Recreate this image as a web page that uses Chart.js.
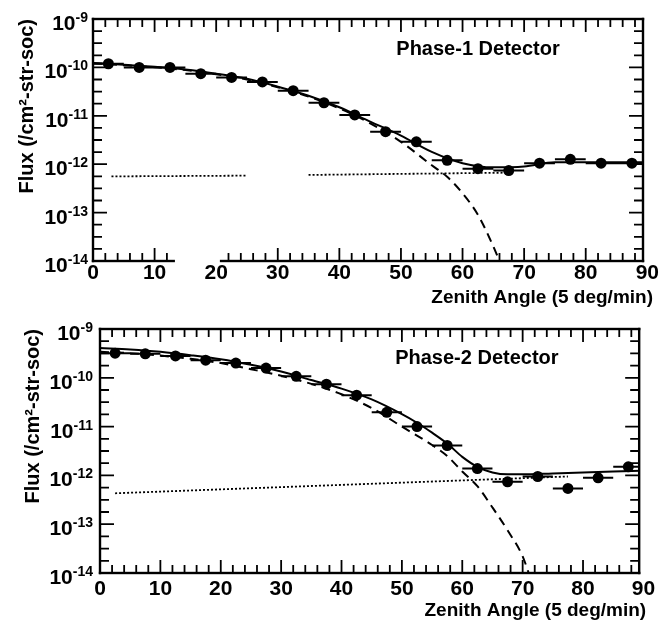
<!DOCTYPE html>
<html><head><meta charset="utf-8">
<script src="https://cdn.jsdelivr.net/npm/chart.js@4.4.1/dist/chart.umd.min.js"></script>
<style>
html,body{margin:0;padding:0;background:#fff;}
#wrap{position:relative;width:659px;height:627px;background:#fff;overflow:hidden;}
#p1{position:absolute;left:0;top:0;width:659px;height:310px;}
#p2{position:absolute;left:0;top:310px;width:659px;height:317px;}
</style></head><body>
<div id="wrap"><div id="p1"><canvas id="c1"></canvas></div><div id="p2"><canvas id="c2"></canvas></div></div>
<script>
// ---- data ----
const angleBins = [2.5,7.5,12.5,17.5,22.5,27.5,32.5,37.5,42.5,47.5,52.5,57.5,62.5,67.5,72.5,77.5,82.5,87.5];
const binHalfWidth = 2.5;
const phase1Flux = [1.19e-10,1.0e-10,1.0e-10,7.4e-11,6.2e-11,5.0e-11,3.3e-11,1.86e-11,1.04e-11,4.7e-12,2.9e-12,1.2e-12,8.1e-13,7.4e-13,1.05e-12,1.26e-12,1.05e-12,1.05e-12];
const phase2Flux = [3.2e-10,3.1e-10,2.8e-10,2.3e-10,2.0e-10,1.58e-10,1.07e-10,7.4e-11,4.4e-11,1.96e-11,1.0e-11,4.1e-12,1.38e-12,7.4e-13,9.5e-13,5.4e-13,8.9e-13,1.5e-12];

const totalAngles1 = [0,5,10,15,20,25,30,35,40,45,50,55,60,65,70,75,80,85,90];
const phase1Total = [1.24e-10,1.13e-10,1.03e-10,9.0e-11,7.4e-11,5.8e-11,4.0e-11,2.6e-11,1.5e-11,7.6e-12,3.9e-12,1.8e-12,1.05e-12,8.6e-13,9.0e-13,1.1e-12,1.1e-12,1.1e-12,1.1e-12];
const muonAngles1 = [0,5,10,15,20,25,30,35,40,45,50,55,57.5,60,62.5,65,66];
const phase1Muon = [1.22e-10,1.11e-10,1.01e-10,8.8e-11,7.2e-11,5.6e-11,3.9e-11,2.5e-11,1.42e-11,7.0e-12,2.9e-12,9.5e-13,5.5e-13,2.5e-13,9e-14,2.0e-14,1.0e-14];
const bkgAngles1 = [3,25,30,35,68];
const phase1Bkg = [5.6e-13,5.8e-13,null,6.0e-13,6.7e-13];

const totalAngles2 = [0,5,10,15,20,25,30,35,40,45,50,52.5,55,57.5,60,62.5,65,67.5,70,75,80,85,90];
const phase2Total = [4.1e-10,3.8e-10,3.4e-10,2.9e-10,2.4e-10,1.85e-10,1.35e-10,9.0e-11,6.0e-11,3.6e-11,1.8e-11,1.2e-11,7.5e-12,4.5e-12,2.4e-12,1.5e-12,1.15e-12,1.05e-12,1.05e-12,1.1e-12,1.15e-12,1.2e-12,1.25e-12];
const muonAngles2 = [0,5,10,15,20,25,30,35,40,45,50,55,57.5,60,62.5,65,67.5,70,71];
const phase2Muon = [3.4e-10,3.2e-10,2.85e-10,2.45e-10,2.0e-10,1.5e-10,1.1e-10,7.5e-11,4.6e-11,2.4e-11,1.0e-11,4.2e-12,2.5e-12,1.2e-12,6.0e-13,2.2e-13,7.5e-14,2.2e-14,1.0e-14];
const bkgAngles2 = [2.5,77.5];
const phase2Bkg = [4.3e-13,9.5e-13];

const xTickLabels = [0,10,20,30,40,50,60,70,80,90];
const xMinorTicks = [0,2,4,6,8,10,12,14,16,18,20,22,24,26,28,30,32,34,36,38,40,42,44,46,48,50,52,54,56,58,60,62,64,66,68,70,72,74,76,78,80,82,84,86,88];
const yDecades = [-14,-13,-12,-11,-10,-9];
const yMinorExps = [-14,-13.75,-13.5,-13.25,-13,-12.75,-12.5,-12.25,-12,-11.75,-11.5,-11.25,-11,-10.75,-10.5,-10.25,-10,-9.75,-9.5,-9.25,-9];
const panelTitles = ['Phase-1 Detector','Phase-2 Detector'];
const xTitle = 'Zenith Angle (5 deg/min)';
const yTitle = 'Flux (/cm\u00B2-str-soc)';

// ---- helpers ----
const FONT = '"Liberation Sans", Arial, Helvetica, sans-serif';
Chart.defaults.font.family = FONT;
Chart.defaults.color = '#000';
const X_MAX = 89.3;
const pts = (xs, ys) => xs.map((x, i) => ({x, y: ys[i]}));
const errBars = (xs, ys) => xs.flatMap((x, i) => [{x: x - binHalfWidth, y: ys[i]}, {x: x + binHalfWidth, y: ys[i]}, {x: x, y: null}]);

// inward tick marks as a line dataset, lengths converted from pixels through the chart's own scales
function tickMarks(chart, gap) {
  const xs = chart.scales.x, ys = chart.scales.y, ca = chart.chartArea;
  const out = [];
  const seg = (a, b) => { out.push(a, b, {x: a.x, y: null}); };
  xMinorTicks.forEach(v => {
    const len = (v % 10 === 0) ? 13 : 8;
    seg({x: v, y: ys.max}, {x: v, y: ys.getValueForPixel(ca.top + len)});
    if (!(gap && v > gap[0] && v < gap[1])) seg({x: v, y: ys.min}, {x: v, y: ys.getValueForPixel(ca.bottom - len)});
  });
  yMinorExps.forEach(e => {
    const val = Math.pow(10, e);
    const len = Number.isInteger(e) ? 14 : 9;
    seg({x: xs.min, y: val}, {x: xs.getValueForPixel(ca.left + len), y: val});
    seg({x: xs.max, y: val}, {x: xs.getValueForPixel(ca.right - len), y: val});
  });
  return out;
}

function drawFrame(chart, gap) {
  const ctx = chart.ctx;
  const ca = chart.chartArea;
  const L = ca.left, R = ca.right, T = ca.top, B = ca.bottom;
  const xs = chart.scales.x;
  ctx.save();
  ctx.fillStyle = '#000';
  const lw = 2.4;
  ctx.fillRect(L - lw / 2, T - lw / 2, lw, B - T + lw);
  ctx.fillRect(R - lw / 2, T - lw / 2, lw, B - T + lw);
  ctx.fillRect(L - lw / 2, T - lw / 2, R - L + lw, lw);
  if (gap) {
    const g0 = xs.getPixelForValue(gap[0]), g1 = xs.getPixelForValue(gap[1]);
    ctx.fillRect(L - lw / 2, B - lw / 2, g0 - L + lw / 2, lw);
    ctx.fillRect(g1, B - lw / 2, R - g1 + lw / 2, lw);
  } else {
    ctx.fillRect(L - lw / 2, B - lw / 2, R - L + lw, lw);
  }
  ctx.restore();
}

function drawTexts(chart, o) {
  const ctx = chart.ctx;
  const ca = chart.chartArea;
  const L = ca.left, R = ca.right, T = ca.top, B = ca.bottom;
  const ys = chart.scales.y;
  ctx.save();
  ctx.fillStyle = '#000';
  yDecades.forEach(e => {
    const py = ys.getPixelForValue(Math.pow(10, e)) + 4;
    const exp = String(e);
    ctx.font = 'bold 14px ' + FONT;
    ctx.textAlign = 'right'; ctx.textBaseline = 'alphabetic';
    const xr = L - o.labelGap;
    ctx.fillText(exp, xr, py - 1);
    const w = ctx.measureText(exp).width;
    ctx.font = 'bold 21px ' + FONT;
    ctx.fillText('10', xr - w, py + 7);
  });
  ctx.font = 'bold 20px ' + FONT;
  ctx.textAlign = 'center'; ctx.textBaseline = 'middle';
  ctx.fillText(o.label, L + o.labelPos[0] * (R - L), T + o.labelPos[1] * (B - T));
  ctx.font = 'bold 19px ' + FONT;
  ctx.textAlign = 'right';
  ctx.fillText(xTitle, R + o.xTitleDx, o.xTitleY);
  ctx.restore();
}

function makeChart(id, flux, tA, tot, mA, mu, bA, bkg, cfg) {
  const deco = {
    id: 'deco_' + id,
    afterDatasetsDraw(chart) { drawFrame(chart, cfg.gap); },
    afterDraw(chart) { drawTexts(chart, cfg); }
  };
  const chart = new Chart(document.getElementById(id), {
    type: 'line',
    data: {
      datasets: [
        {data: pts(angleBins, flux), showLine: false, pointRadius: 5.5, pointHoverRadius: 5.5, pointBackgroundColor: '#000', pointBorderWidth: 0, borderColor: '#000'},
        {data: errBars(angleBins, flux), borderColor: '#000', borderWidth: 2, pointRadius: 0, spanGaps: false},
        {data: pts(tA, tot), borderColor: '#000', borderWidth: 2, pointRadius: 0, cubicInterpolationMode: 'monotone'},
        {data: pts(mA, mu), borderColor: '#000', borderWidth: 2, borderDash: [9, 6], pointRadius: 0, cubicInterpolationMode: 'monotone'},
        {data: pts(bA, bkg), borderColor: '#000', borderWidth: 1.8, borderDash: [2, 2], pointRadius: 0, spanGaps: false}
      ]
    },
    options: {
      responsive: true, maintainAspectRatio: false, animation: false, devicePixelRatio: 1,
      layout: {padding: {left: 0, right: cfg.padRight, top: cfg.padTop, bottom: 0}},
      plugins: {legend: {display: false}, tooltip: {enabled: false}},
      scales: {
        x: {type: 'linear', min: 0, max: X_MAX,
          grid: {display: false, drawTicks: false}, border: {display: false},
          afterBuildTicks: s => { s.ticks = xTickLabels.map(v => ({value: v})); },
          afterFit: s => { s.height = cfg.xHeight; },
          ticks: {autoSkip: false, maxRotation: 0, padding: cfg.xPad, font: {size: 21, weight: 'bold'}, color: '#000'}
        },
        y: {type: 'logarithmic', min: 1e-14, max: 1e-9,
          grid: {display: false, drawTicks: false}, border: {display: false},
          afterBuildTicks: s => { s.ticks = yDecades.map(e => ({value: Math.pow(10, e)})); },
          afterFit: s => { s.width = cfg.yWidth; },
          ticks: {display: false},
          title: {display: true, text: yTitle, align: 'end', font: {size: 20, weight: 'bold'}, color: '#000', padding: {top: cfg.yTitlePad, bottom: 0}}
        }
      }
    },
    plugins: [deco]
  });
  chart.data.datasets.push({data: tickMarks(chart, cfg.gap), borderColor: '#000', borderWidth: 1.8, pointRadius: 0, pointHoverRadius: 0, spanGaps: false, clip: false});
  chart.update('none');
  return chart;
}

makeChart('c1', phase1Flux, totalAngles1, phase1Total, muonAngles1, phase1Muon, bkgAngles1, phase1Bkg,
  {label: panelTitles[0], labelPos: [0.70, 0.128], gap: [13.3, 20.6], labelGap: 5, xTitleDx: 10, xTitleY: 298,
   padRight: 16, padTop: 19, xHeight: 49, yWidth: 93, xPad: 0, yTitlePad: 15});
makeChart('c2', phase2Flux, totalAngles2, phase2Total, muonAngles2, phase2Muon, bkgAngles2, phase2Bkg,
  {label: panelTitles[1], labelPos: [0.699, 0.119], gap: null, labelGap: 7, xTitleDx: 7, xTitleY: 301,
   padRight: 11, padTop: 19, xHeight: 54, yWidth: 100, xPad: 4, yTitlePad: 21});
</script>
</body></html>
